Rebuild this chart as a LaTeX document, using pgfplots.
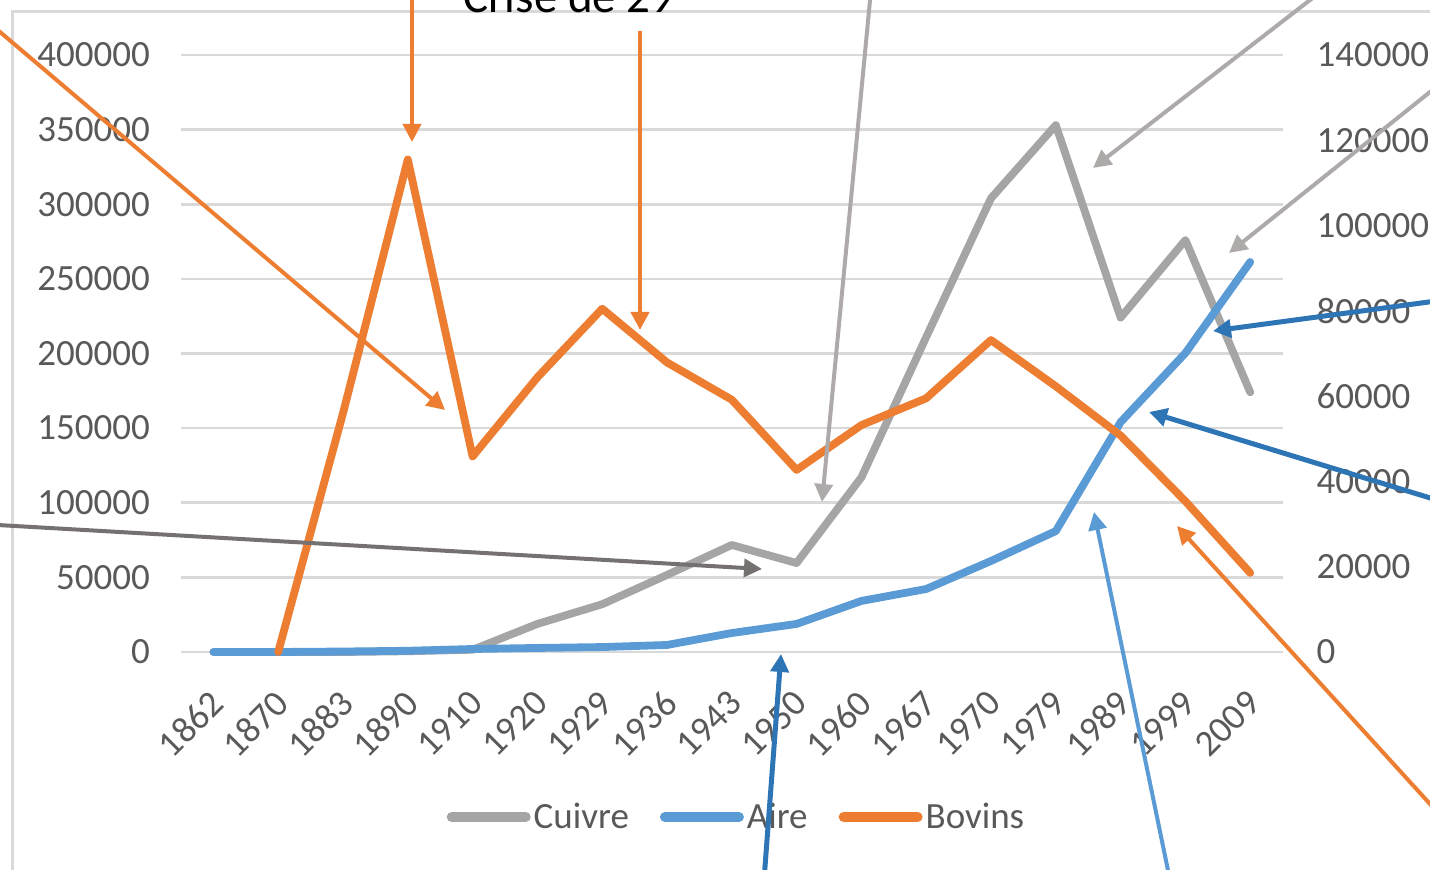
\documentclass[border=0pt]{standalone}
\usepackage{fontspec}
\setmainfont{Carlito}
\usepackage{pgfplots}
\pgfplotsset{compat=1.18}
\usetikzlibrary{arrows.meta}
\definecolor{cuivre}{HTML}{A5A5A5}
\definecolor{aire}{HTML}{5B9BD5}
\definecolor{bovins}{HTML}{ED7D31}
\definecolor{gridc}{HTML}{D9D9D9}
\definecolor{tickc}{HTML}{595959}
\definecolor{darkgr}{HTML}{767171}
\definecolor{lightgr}{HTML}{AEAAAA}
\definecolor{darkbl}{HTML}{2E75B6}

\pgfplotstableread{
x cuivre aire
0 0 0
1 0 0
2 0 300
3 500 800
4 1500 2000
5 18800 2700
6 32000 3300
7 51600 4700
8 71700 12700
9 59600 18800
10 117000 34200
11 211000 42200
12 304000 61000
13 353000 81000
14 224000 154000
15 276000 200300
16 174000 261300
}\datatable

\pgfplotstableread{
x bovins
1 0
2 160000
3 330000
4 131000
5 184000
6 230000
7 194000
8 169000
9 122000
10 152000
11 170000
12 209000
13 178000
14 145000
15 101000
16 53000
}\bovtable

\begin{document}
\begin{tikzpicture}[x=0.5pt,y=0.5pt]
\path[use as bounding box] (0,0) rectangle (1430,870);
\begin{scope}
\clip (0,0) rectangle (1430,870);
\draw[color=gridc, line width=1.5pt] (12,-50) rectangle (1480,858);

\begin{axis}[
  at={(90.5pt,109pt)}, anchor=south west,
  scale only axis, width=550.8pt, height=298.5pt,
  xmin=-0.5, xmax=16.5, ymin=0, ymax=400000,
  axis line style={draw=none},
  major tick style={draw=none},
  scaled y ticks=false,
  ytick={0,50000,100000,150000,200000,250000,300000,350000,400000},
  yticklabels={0,50000,100000,150000,200000,250000,300000,350000,400000},
  xtick={0,...,16},
  xticklabels={1862,1870,1883,1890,1910,1920,1929,1936,1943,1950,1960,1967,1970,1979,1989,1999,2009},
  ymajorgrids, grid style={color=gridc, line width=1.3pt},
  ticklabel style={font=\fontsize{18.5}{18.5}\selectfont, text=tickc},
  yticklabel shift=12pt,
  xticklabel style={xshift=2pt, yshift=-22.5pt, rotate=45, anchor=east, inner sep=0pt},
  clip=false,
  legend columns=3,
  legend style={at={(0.5047,-0.2764)}, anchor=center, draw=none, fill=none,
    font=\fontsize{18.5}{18.5}\selectfont, text=tickc,
    nodes={inner xsep=1.5pt},
    /tikz/every even column/.append style={column sep=14pt}},
  legend image code/.code={\draw[#1, line width=5pt, line cap=round] (0pt,0pt) -- (37pt,0pt);},
  every axis plot/.append style={line width=3.9pt, line join=round, line cap=round},
]
\addplot[color=cuivre] table[x=x, y=cuivre] {\datatable};
\addlegendentry{Cuivre}
\addplot[color=aire] table[x=x, y=aire] {\datatable};
\addlegendentry{Aire}
\addplot[color=bovins] table[x=x, y=bovins] {\bovtable};
\addlegendentry{Bovins}
\end{axis}

\begin{axis}[
  at={(90.5pt,109pt)}, anchor=south west,
  scale only axis, width=550.8pt, height=298.5pt,
  xmin=-0.5, xmax=16.5, ymin=0, ymax=140000,
  axis x line=none, axis y line*=right,
  axis line style={draw=none},
  major tick style={draw=none},
  scaled y ticks=false,
  ytick={0,20000,40000,60000,80000,100000,120000,140000},
  yticklabels={0,20000,40000,60000,80000,100000,120000,140000},
  ticklabel style={font=\fontsize{18.5}{18.5}\selectfont, text=tickc},
  yticklabel shift=13.5pt,
]
\end{axis}

% annotation arrows
\begin{scope}[line width=2pt, arrows={-Triangle[length=9pt,width=9pt]}]
\draw[bovins] (412,880) -- (412,728);
\draw[bovins] (640,839) -- (640,540);
\draw[bovins] (-20,855) -- (445,460);
\draw[darkgr] (-20,346) -- (762,301);
\draw[lightgr] (871,880) -- (822,368);
\draw[lightgr] (1323,880) -- (1093,702);
\draw[lightgr] (1440,786) -- (1229,617);
\draw[darkbl, line width=2.5pt] (1440,569.5) -- (1213,539);
\draw[darkbl, line width=2.5pt] (1440,369) -- (1149,458);
\draw[bovins] (1440,55) -- (1177,344);
\draw[aire] (1170,-10) -- (1094,358);
\draw[darkbl, line width=2.5pt] (764,-10) -- (781,216);
\end{scope}

\node[anchor=base, font=\fontsize{23.5}{28}\selectfont, text=black] at (569,857) {Crise de 29};
\end{scope}
\end{tikzpicture}
\end{document}
